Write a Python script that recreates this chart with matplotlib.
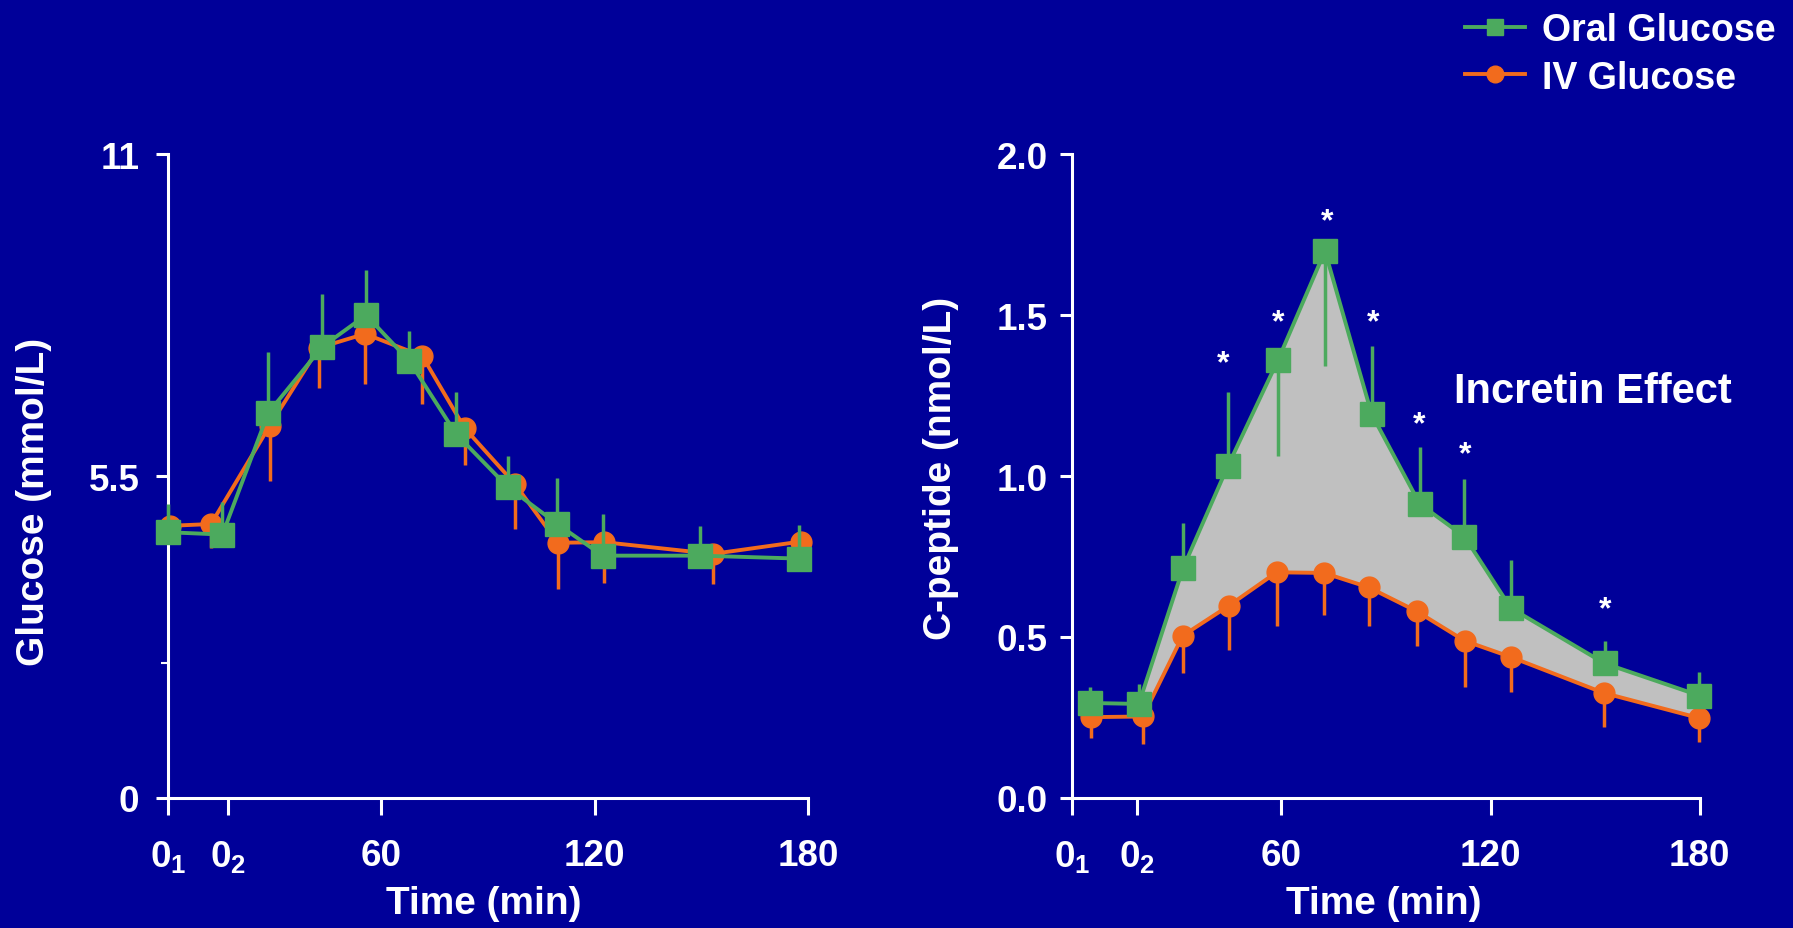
import numpy as np
import matplotlib
matplotlib.use("Agg")
import matplotlib.pyplot as plt
from matplotlib.lines import Line2D

plt.rcParams["font.family"] = ["Liberation Sans", "DejaVu Sans"]
plt.rcParams["font.weight"] = "bold"
plt.rcParams["mathtext.default"] = "regular"

BG = "#000099"
GREEN = "#4CAA5E"
ORANGE = "#F26B1D"
FILL = "#C0C0C0"

# Glucose panel
t_oral_g = [0, 15.3, 28.2, 43.4, 55.7, 67.8, 81, 95.6, 109.5, 122.2, 149.6, 177.3]
oral_g = [4.54, 4.50, 6.58, 7.71, 8.25, 7.47, 6.22, 5.31, 4.68, 4.14, 4.14, 4.09]
oral_g_up = [0.48, 0.56, 1.04, 0.90, 0.77, 0.51, 0.72, 0.53, 0.78, 0.71, 0.51, 0.57]
t_iv_g = [0.6, 12.1, 28.6, 42.4, 55.4, 71.5, 83.4, 97.5, 109.6, 122.6, 153.2, 177.9]
iv_g = [4.65, 4.68, 6.36, 7.69, 7.93, 7.55, 6.32, 5.37, 4.36, 4.37, 4.17, 4.38]
iv_g_down = [0.2, 0.41, 0.94, 0.68, 0.86, 0.82, 0.63, 0.78, 0.79, 0.69, 0.51, 0.51]

# C-peptide panel
t_oral_c = [5.2, 19.1, 31.8, 44.6, 59.1, 72.5, 85.9, 99.7, 112.5, 125.8, 152.7, 179.9]
oral_c = [0.295, 0.292, 0.714, 1.030, 1.362, 1.699, 1.192, 0.913, 0.812, 0.590, 0.418, 0.318]
oral_c_up = [0.049, 0.062, 0.140, 0.232, 0, 0, 0.211, 0.176, 0.179, 0.149, 0.071, 0.072]
oral_c_down = [0, 0, 0, 0, 0.299, 0.356, 0, 0, 0, 0, 0, 0]
t_iv_c = [5.4, 20.3, 31.7, 44.9, 58.6, 72.2, 85.1, 98.8, 112.6, 126.0, 152.5, 179.9]
iv_c = [0.251, 0.253, 0.504, 0.597, 0.701, 0.699, 0.654, 0.580, 0.488, 0.437, 0.326, 0.248]
iv_c_down = [0.066, 0.085, 0.117, 0.137, 0.166, 0.131, 0.119, 0.107, 0.144, 0.109, 0.105, 0.075]

star_t = [43.2, 59.0, 73.1, 86.3, 99.4, 112.6, 153.0]
star_y = [1.350, 1.479, 1.793, 1.477, 1.161, 1.068, 0.587]

xtick_labels = ["$0_1$", "$0_2$", "60", "120", "180"]
xticks_g = [0, 17, 60, 120, 180]
xticks_c = [0, 18.5, 60, 120, 180]

fig = plt.figure(figsize=(17.93, 9.29), dpi=100, facecolor=BG)
ax1 = fig.add_axes([0.0937, 0.140, 0.357, 0.693])
ax2 = fig.add_axes([0.598, 0.140, 0.350, 0.693])


def style(ax, xticks, ylim):
    ax.set_facecolor(BG)
    for s in ["top", "right"]:
        ax.spines[s].set_visible(False)
    for s in ["left", "bottom"]:
        ax.spines[s].set_color("white")
        ax.spines[s].set_linewidth(2.2)
    ax.set_xlim(0, 180)
    ax.set_ylim(*ylim)
    ax.set_xticks(xticks)
    ax.set_xticklabels(xtick_labels)
    ax.tick_params(axis="x", colors="white", length=12, width=2.2, pad=17, labelsize=26.5)
    ax.tick_params(axis="y", colors="white", length=8.6, width=2.2, pad=12, labelsize=26.5)
    ax.set_xlabel("Time (min)", color="white", fontsize=28, fontweight="bold")


# left panel
style(ax1, xticks_g, (0, 11))
ax1.set_yticks([0, 5.5, 11])
ax1.set_yticklabels(["0", "5.5", "11"])
ax1.set_yticks([2.3], minor=True)
ax1.tick_params(axis="y", which="minor", colors="white", length=5, width=1.5)
ax1.set_ylabel("Glucose (mmol/L)", color="white", fontsize=28, fontweight="bold")
ax1.yaxis.set_label_coords(-0.181, 0.461)
ax1.xaxis.set_label_coords(0.494, -0.135)

ax1.errorbar(t_iv_g, iv_g, yerr=[iv_g_down, [0] * len(iv_g)], fmt="none",
             ecolor=ORANGE, elinewidth=2.5, capsize=0, zorder=2, clip_on=False)
ax1.plot(t_iv_g, iv_g, color=ORANGE, lw=2.8, marker="o", ms=15,
         mec=ORANGE, zorder=3, clip_on=False)
ax1.errorbar(t_oral_g, oral_g, yerr=[[0] * len(oral_g), oral_g_up], fmt="none",
             ecolor=GREEN, elinewidth=2.5, capsize=0, zorder=4, clip_on=False)
ax1.plot(t_oral_g, oral_g, color=GREEN, lw=2.8, marker="s", ms=17,
         mec=GREEN, zorder=5, clip_on=False)

# right panel
style(ax2, xticks_c, (0, 2.0))
ax2.set_yticks([0, 0.5, 1.0, 1.5, 2.0])
ax2.set_yticklabels(["0.0", "0.5", "1.0", "1.5", "2.0"])
ax2.tick_params(axis="y", pad=9)
ax2.set_ylabel("C-peptide (nmol/L)", color="white", fontsize=28, fontweight="bold")
ax2.yaxis.set_label_coords(-0.180, 0.514)
ax2.xaxis.set_label_coords(0.497, -0.135)

poly_x = list(t_oral_c[1:]) + list(t_iv_c[1:])[::-1]
poly_y = list(oral_c[1:]) + list(iv_c[1:])[::-1]
ax2.fill(poly_x, poly_y, color=FILL, lw=0, zorder=1)

ax2.errorbar(t_iv_c, iv_c, yerr=[iv_c_down, [0] * len(iv_c)], fmt="none",
             ecolor=ORANGE, elinewidth=2.5, capsize=0, zorder=2, clip_on=False)
ax2.plot(t_iv_c, iv_c, color=ORANGE, lw=2.8, marker="o", ms=15,
         mec=ORANGE, zorder=3, clip_on=False)
ax2.errorbar(t_oral_c, oral_c, yerr=[oral_c_down, oral_c_up], fmt="none",
             ecolor=GREEN, elinewidth=2.5, capsize=0, zorder=4, clip_on=False)
ax2.plot(t_oral_c, oral_c, color=GREEN, lw=2.8, marker="s", ms=17,
         mec=GREEN, zorder=5, clip_on=False)

for x, y in zip(star_t, star_y):
    ax2.text(x, y, "*", color="white", fontsize=23, fontweight="bold",
             ha="center", va="center", zorder=6)

ax2.text(109.5, 1.264, "Incretin Effect", color="white", fontsize=30,
         fontweight="bold", ha="left", va="center", zorder=6)

handles = [
    Line2D([], [], color=GREEN, lw=2.8, marker="s", ms=12, mec=GREEN),
    Line2D([], [], color=ORANGE, lw=2.8, marker="o", ms=12, mec=ORANGE),
]
leg = fig.legend(handles, ["Oral Glucose", "IV Glucose"], loc="upper right",
                 bbox_to_anchor=(1.009, 1.022), frameon=False, fontsize=27,
                 handlelength=1.6, handletextpad=0.45, labelspacing=0.3)
for txt in leg.get_texts():
    txt.set_color("white")
    txt.set_fontweight("bold")

fig.savefig("out.png", dpi=100, facecolor=BG)
